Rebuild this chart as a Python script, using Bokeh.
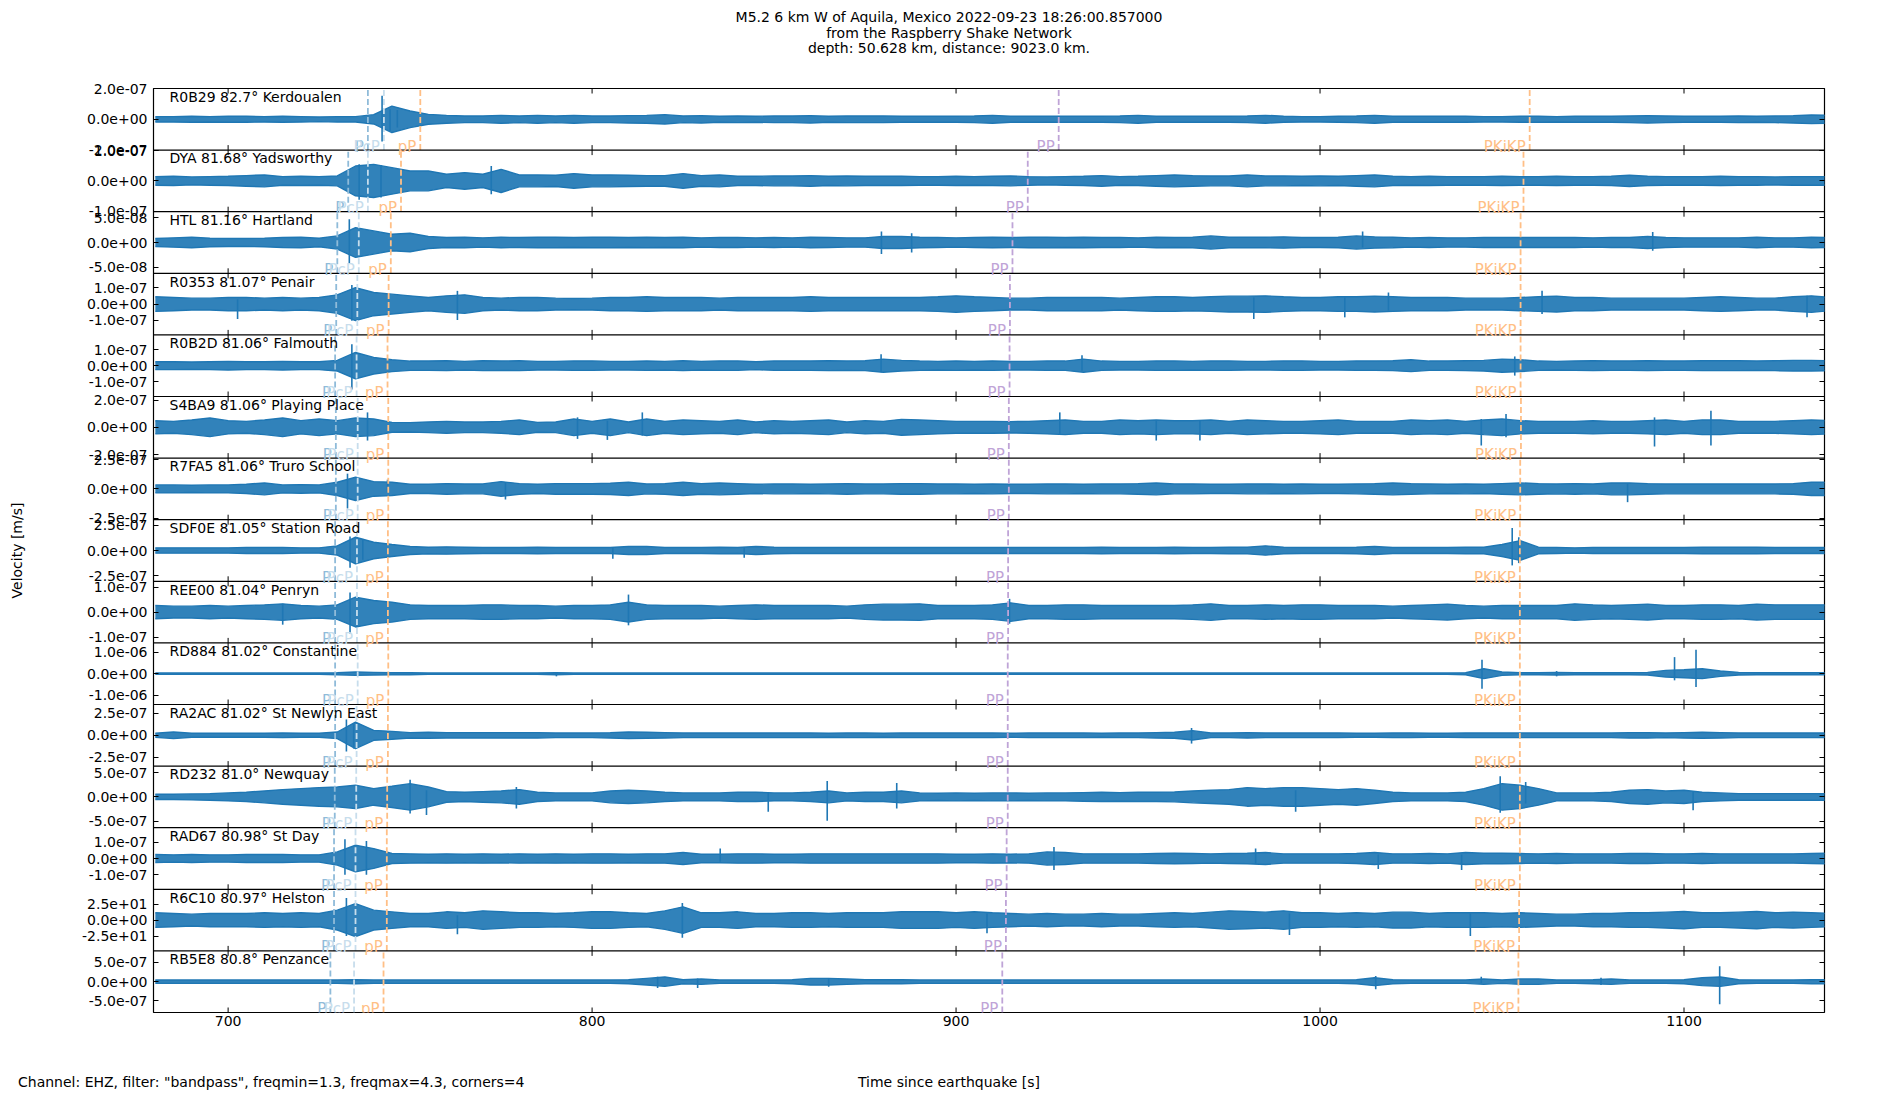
from bokeh.plotting import figure
from bokeh.models import Range1d, FixedTicker, LinearAxis, Span, Div, Label
from bokeh.layouts import column
from bokeh.embed import file_html
from bokeh.resources import INLINE

# ---------------- data ----------------
TITLE_LINES = ["M5.2 6 km W of Aquila, Mexico 2022-09-23 18:26:00.857000",
               "from the Raspberry Shake Network",
               "depth: 50.628 km, distance: 9023.0 km."]
FOOTER = 'Channel: EHZ, filter: "bandpass", freqmin=1.3, freqmax=4.3, corners=4'
XLABEL = "Time since earthquake [s]"
YLABEL = "Velocity [m/s]"

CODES = ["R0B29", "DYA", "HTL", "R0353", "R0B2D", "S4BA9", "R7FA5", "SDF0E",
         "REE00", "RD884", "RA2AC", "RD232", "RAD67", "R6C10", "RB5E8"]
DISTS = [82.7, 81.68, 81.16, 81.07, 81.06, 81.06, 81.06, 81.05,
         81.04, 81.02, 81.02, 81.0, 80.98, 80.97, 80.8]
PLACES = ["Kerdoualen", "Yadsworthy", "Hartland", "Penair", "Falmouth", "Playing Place",
          "Truro School", "Station Road", "Penryn", "Constantine", "St Newlyn East",
          "Newquay", "St Day", "Helston", "Penzance"]

# y tick value and y-limit of every panel (physical units)
TICK = [2e-7, 1e-7, 5e-8, 1e-7, 1e-7, 2e-7, 2.5e-7, 2.5e-7, 1e-7, 1e-6, 2.5e-7, 5e-7, 1e-7, 25.0, 5e-7]
YLIM = [2.0e-7, 1.02e-7, 6.17e-8, 1.89e-7, 1.92e-7, 2.26e-7, 2.63e-7, 3.05e-7,
        1.23e-7, 1.43e-6, 3.5e-7, 6.33e-7, 1.9e-7, 48.1, 8.0e-7]
# physical value of one amplitude unit of the envelope / spike lists below
UNIT = [2.15e-9, 1.097e-9, 6.63e-10, 2.03e-9, 2.06e-9, 2.43e-9, 2.83e-9, 3.28e-9,
        1.32e-9, 1.54e-8, 3.76e-9, 6.81e-9, 2.04e-9, 0.517, 8.6e-9]

# envelope sample times (s) and envelope half-amplitudes per station
T = list(range(680, 1141, 5))
ENV_R0B29 = [8,8,9,8,9,9,8,9,8,7, 8,8,14,40,25,15,12,10,10,12, 10,12,10,12,10,10,11,12,14,10,
             11,9,10,9,10,10,11,9,10,10, 10,9,9,9,9,10,12,9,9,9, 9,9,9,10,12,9,9,9,9,9,
             10,12,9,8,8,9,10,12,9,9, 9,9,9,8,8,9,9,8,9,9, 9,10,11,10,9,9,9,10,9,10, 11,13,12]
ENV_DYA = [13,14,12,13,14,16,18,13,14,13, 15,45,50,40,30,30,20,25,20,35, 18,18,17,22,18,18,17,16,16,22,
           16,18,14,14,15,15,16,14,15,14, 14,14,13,13,14,13,14,15,13,12, 13,14,16,13,14,16,18,16,15,15,
           18,15,15,14,15,14,16,18,14,13, 14,13,13,13,14,13,13,14,13,13, 14,17,14,13,13,13,14,13,13,12, 13,13,13]
ENV_HTL = [12,14,16,13,12,12,13,15,16,13, 20,45,35,25,28,18,15,16,14,16, 15,16,16,15,16,16,15,16,15,16,
           14,15,15,14,15,14,16,15,14,14, 18,18,16,15,14,15,16,15,16,16, 15,16,15,15,14,16,15,16,20,16,
           16,16,17,15,15,16,20,17,16,14, 15,14,14,15,15,15,15,15,15,14, 15,15,18,15,14,14,14,14,16,14, 14,16,15]
ENV_R0353 = [22,20,18,18,20,20,18,20,18,20, 28,50,35,30,25,20,25,28,20,18, 20,20,18,17,18,20,20,22,20,20,
             20,18,20,20,20,20,22,20,20,20, 20,20,20,22,25,22,20,18,18,20, 20,20,20,18,20,22,22,20,22,24,
             24,25,22,20,20,22,22,24,22,20, 20,20,18,18,18,20,22,24,20,20, 18,18,18,18,18,20,22,20,18,18, 22,25,20]
ENV_R0B2D = [12,12,11,12,13,12,12,13,12,12, 16,40,25,18,14,14,15,13,15,14, 15,13,13,14,14,13,13,14,13,15,
             13,14,14,12,14,14,14,15,14,15, 20,16,14,13,14,13,14,13,13,14, 14,20,14,13,13,14,14,13,14,14,
             13,13,14,14,13,13,14,14,15,18, 14,14,15,16,20,18,14,13,14,15, 14,14,15,14,14,15,15,15,14,15, 16,16,15]
ENV_S4BA9 = [20,18,22,28,20,18,22,28,20,25, 20,28,25,15,14,16,18,16,16,18, 22,15,16,25,18,25,16,25,18,22,
             20,18,22,16,20,18,20,22,16,20, 18,24,22,20,18,18,18,17,18,20, 22,18,18,22,20,22,20,20,22,18,
             22,20,18,18,20,22,18,18,18,22, 20,22,18,22,25,20,18,18,18,20, 18,18,20,22,18,22,22,18,18,18, 20,22,20]
ENV_R7FA5 = [12,12,11,12,12,14,18,12,13,12, 20,35,22,20,14,14,16,15,15,22, 16,14,16,16,16,17,20,15,16,20,
             16,18,16,14,15,15,14,15,16,15, 15,16,16,15,15,14,15,14,14,15, 15,14,15,15,16,18,15,15,14,14,
             15,15,14,15,14,14,15,16,18,16, 15,14,15,14,16,18,16,15,16,15, 18,18,16,15,15,15,15,15,15,15, 16,20,20]
ENV_SDF0E = [8,8,8,8,8,9,9,9,8,8, 14,40,25,18,12,10,11,10,9,9, 9,10,9,9,9,9,12,12,9,9,
             9,10,9,12,10,9,9,9,9,9, 9,9,9,9,9,9,9,9,9,9, 9,9,10,9,9,9,10,9,9,10,
             10,14,10,9,9,9,10,12,9,9, 9,9,10,10,18,30,10,9,8,9, 9,9,9,9,9,10,10,10,10,9, 9,9,9]
ENV_REE00 = [20,18,18,20,18,20,22,25,20,18, 22,45,35,30,22,20,20,20,22,22, 20,20,18,20,20,22,30,22,20,20,
             20,18,20,22,20,20,20,20,18,22, 24,24,25,20,20,20,22,28,20,20, 22,22,20,20,20,20,20,22,25,20,
             20,22,20,22,22,20,20,20,18,20, 22,24,20,18,20,20,20,20,25,22, 20,22,24,20,20,22,22,20,24,22, 22,22,22]
ENV_RD884 = [2,2,2,2,2,2,2,2,2,2, 3,5,4,3,3,2,2,2,2,2, 2,2,3,2,2,2,2,2,2,2,
             2,2,2,2,2,2,2,2,2,2, 2,2,2,2,2,2,2,2,2,2, 2,2,2,2,2,2,2,2,2,2,
             2,2,2,2,2,2,2,2,2,2, 2,2,3,15,5,3,3,4,3,3, 3,3,4,10,12,15,8,4,3,3, 3,3,3]
ENV_RA2AC = [6,10,6,6,6,6,6,7,6,6, 10,40,15,12,8,9,8,8,8,8, 8,8,7,7,7,8,10,9,8,7,
             7,7,7,7,7,7,7,6,7,7, 6,7,7,7,7,7,7,6,7,7, 7,7,6,7,7,8,9,14,7,7,
             8,7,7,7,7,7,6,6,7,7, 6,6,7,7,7,7,7,7,7,7, 7,8,8,7,8,9,8,7,7,7, 7,7,7]
ENV_RD232 = [8,8,9,10,12,14,18,22,25,28, 30,35,25,32,40,30,16,14,16,18, 22,14,12,12,12,18,20,18,14,12,
             12,12,14,14,12,12,14,18,12,14, 14,18,12,11,12,11,12,12,11,12, 12,13,14,13,14,14,15,18,20,22,
             28,25,28,28,25,22,25,20,14,12, 12,12,14,25,40,35,25,12,12,12, 14,20,22,18,20,14,12,10,10,10, 10,10,10]
ENV_RAD67 = [12,11,12,11,11,12,12,12,11,11, 20,40,30,15,14,13,14,13,14,13, 14,13,14,13,14,14,13,14,14,18,
             13,13,14,14,13,13,14,14,14,14, 14,14,14,14,13,13,14,13,14,20, 18,14,14,14,14,15,16,15,14,15,
             16,18,14,14,14,14,15,18,14,14, 15,14,18,16,16,15,14,15,14,14, 14,15,15,14,14,15,14,14,14,14, 14,15,16]
ENV_R6C10 = [22,20,18,20,20,20,22,20,22,20, 30,50,30,25,20,20,25,22,28,25, 22,22,20,22,25,25,22,20,28,40,
             22,22,25,20,20,22,22,20,22,22, 22,25,25,25,22,25,22,20,18,20, 18,18,20,18,18,20,22,20,24,28,
             26,24,28,22,22,20,22,20,24,24, 20,22,22,22,20,22,20,18,18,20, 20,22,22,24,26,22,22,24,26,22, 24,22,20]
ENV_RB5E8 = [5,5,5,5,5,5,5,5,5,5, 5,6,5,5,5,5,5,5,5,5, 5,5,5,5,5,5,6,10,14,6,
             8,5,5,5,5,6,10,10,8,6, 6,6,5,5,5,5,5,5,5,5, 5,5,5,5,5,5,5,5,5,5,
             5,5,5,5,5,5,6,12,6,5, 5,5,5,8,5,8,8,5,5,6, 8,5,5,5,6,12,14,6,5,5, 5,6,6]

# isolated large swings: (time s, peak up, peak down) in the same units
SPK_R0B29 = [(742.3, 71, -67), (744.5, 30, -35), (746.5, 28, -25)]
SPK_DYA = [(736.0, 50, -57), (742.0, 48, -50), (772.3, 45, -40)]
SPK_HTL = [(733.3, 70, -65), (879.5, 33, -35), (887.8, 28, -30), (1011.7, 33, -15), (1091.4, 32, -25)]
SPK_R0353 = [(702.6, 15, -45), (734.0, 58, -50), (763.0, 40, -48), (981.8, 20, -45), (1006.8, 20, -40),
             (1018.8, 35, -20), (1061.0, 40, -30), (1133.8, 25, -40)]
SPK_R0B2D = [(734.0, 65, -72), (879.4, 35, -20), (934.6, 32, -15), (1053.5, 28, -30)]
SPK_S4BA9 = [(738.3, 45, -40), (796.0, 30, -35), (804.2, 20, -38), (813.8, 45, -25), (928.5, 45, -20),
             (955.0, 20, -40), (967.0, 20, -40), (1044.3, 25, -55), (1051.1, 40, -30), (1091.9, 30, -58),
             (1107.4, 50, -55)]
SPK_R7FA5 = [(732.8, 46, -59), (743.8, 28, -10), (776.2, 20, -32), (1084.5, 15, -40)]
SPK_SDF0E = [(733.5, 42, -52), (737.0, 35, -28), (805.7, 10, -25), (841.8, 10, -22), (1052.8, 68, -45),
             (1054.6, 40, -38)]
SPK_REE00 = [(715.0, 25, -38), (733.5, 59, -65), (810.0, 53, -40), (914.7, 40, -35)]
SPK_RD884 = [(790.2, 3, -8), (1044.5, 42, -45), (1065.0, 8, -8), (1097.4, 50, -20), (1103.3, 72, -40)]
SPK_RA2AC = [(732.5, 48, -49), (734.5, 35, -40), (964.7, 22, -25)]
SPK_RD232 = [(750.0, 52, -50), (754.5, 20, -55), (779.2, 30, -35), (848.4, 15, -45), (864.6, 48, -72),
             (883.7, 42, -35), (993.3, 20, -45), (1049.5, 62, -48), (1056.5, 45, -20), (1102.5, 15, -40)]
SPK_RAD67 = [(732.1, 58, -49), (738.0, 53, -49), (835.2, 30, -10), (926.9, 35, -35), (982.3, 30, -15),
             (1016.0, 12, -32), (1038.9, 12, -35)]
SPK_R6C10 = [(732.5, 67, -48), (763.0, 15, -43), (824.8, 52, -53), (908.5, 20, -40), (991.6, 20, -45),
             (1041.3, 20, -48)]
SPK_RB5E8 = [(818.0, 15, -19), (829.0, 10, -19), (865.0, 10, -15), (1015.3, 17, -23), (1044.3, 15, -5),
             (1077.2, 12, -10), (1109.8, 47, -68)]

ENVS = [ENV_R0B29, ENV_DYA, ENV_HTL, ENV_R0353, ENV_R0B2D, ENV_S4BA9, ENV_R7FA5, ENV_SDF0E,
        ENV_REE00, ENV_RD884, ENV_RA2AC, ENV_RD232, ENV_RAD67, ENV_R6C10, ENV_RB5E8]
SPKS = [SPK_R0B29, SPK_DYA, SPK_HTL, SPK_R0353, SPK_R0B2D, SPK_S4BA9, SPK_R7FA5, SPK_SDF0E,
        SPK_REE00, SPK_RD884, SPK_RA2AC, SPK_RD232, SPK_RAD67, SPK_R6C10, SPK_RB5E8]

# theoretical arrival times (s) per station
PHASE_NAMES = ["P", "PcP", "pP", "PP", "PKiKP"]
ARR_P = [738.4, 733.0, 730.0, 729.7, 729.4, 729.6, 729.6, 729.4, 729.4, 729.4, 729.4, 729.3, 729.1, 729.1, 728.1]
ARR_PCP = [742.8, 738.4, 735.9, 735.5, 735.3, 735.6, 735.6, 735.4, 735.4, 735.6, 735.3, 735.2, 735.0, 735.0, 734.6]
ARR_PP_D = [752.8, 747.5, 744.7, 744.1, 743.8, 744.0, 744.0, 743.9, 743.9, 744.0, 743.9, 743.7, 743.6, 743.6, 742.7]
ARR_PP = [928.2, 919.7, 915.5, 914.8, 914.7, 914.5, 914.5, 914.3, 914.3, 914.2, 914.2, 914.2, 913.9, 913.7, 912.7]
ARR_PKIKP = [1057.6, 1055.9, 1055.1, 1055.1, 1055.1, 1055.2, 1055.0, 1054.9, 1054.9, 1054.9, 1054.9, 1054.9,
             1054.9, 1054.7, 1054.5]
ARRIVALS = [ARR_P, ARR_PCP, ARR_PP_D, ARR_PP, ARR_PKIKP]

XTICKS = [700, 800, 900, 1000, 1100]
XMIN, XMAX = 679.5, 1138.6

# ---------------- style ----------------
FONT = "DejaVu Sans"
FS = "14px"
FS_PHASE = "15px"
C0 = "#1f77b4"
PHASE_COLORS = ["#8fbbd9", "#c7ddec", "#ffbf86", "#bfa4d7", "#ffbf86"]
N = len(CODES)
FRAME_H = 924
PX_PER_UNIT = FRAME_H / N
W = 1884

p = figure(width=W, height=30 + FRAME_H + 40, output_backend="svg", toolbar_location=None,
           x_range=Range1d(XMIN, XMAX), y_range=Range1d(0, N),
           min_border_left=153, min_border_right=60, min_border_top=30, min_border_bottom=40)
p.xgrid.visible = False
p.ygrid.visible = False
p.outline_line_color = "black"
p.outline_line_width = 1.2
p.background_fill_color = "white"
p.border_fill_color = "white"

# bottom axis
xa = p.xaxis[0]
xa.ticker = FixedTicker(ticks=XTICKS)
xa.major_tick_in = 0
xa.major_tick_out = 0
xa.minor_tick_line_color = None
xa.axis_line_color = None
xa.major_label_standoff = 3
xa.major_label_text_font = FONT
xa.major_label_text_font_size = FS
xa.major_label_text_color = "black"

# per-panel y ticks
ytick_pos = []
ytick_lab = {}
for k in range(N):
    c = N - 0.5 - k
    h = 0.5 * TICK[k] / YLIM[k]
    for pos, v in ((c + h, TICK[k]), (c, 0.0), (c - h, -TICK[k])):
        pos = round(pos, 6)
        ytick_pos.append(pos)
        ytick_lab[pos] = f"{v:.1e}"

ya = p.yaxis[0]
ya.ticker = FixedTicker(ticks=ytick_pos)
ya.major_label_overrides = ytick_lab
ya.major_tick_in = 5
ya.major_tick_out = 0
ya.major_tick_line_color = "black"
ya.minor_tick_line_color = None
ya.axis_line_color = None
ya.major_label_standoff = 6
ya.major_label_text_font = FONT
ya.major_label_text_font_size = FS
ya.major_label_text_color = "black"
ya.axis_label = YLABEL
ya.axis_label_standoff = 54
ya.axis_label_text_font = FONT
ya.axis_label_text_font_size = FS
ya.axis_label_text_font_style = "normal"
ya.axis_label_text_color = "black"

ra = LinearAxis(ticker=FixedTicker(ticks=ytick_pos), major_tick_in=5, major_tick_out=0,
                minor_tick_line_color=None, axis_line_color=None,
                major_label_text_font_size="0px")
p.add_layout(ra, "right")

# panel separators
for j in range(1, N):
    p.add_layout(Span(location=j, dimension="width", line_color="black", line_width=1.2))

# x tick marks on every panel edge (pointing inwards)
d = 5.0 / PX_PER_UNIT
x0s, y0s, y1s = [], [], []
for j in range(N + 1):
    for xt in XTICKS:
        x0s.append(xt)
        y0s.append(j - d)
        y1s.append(j + d)
p.segment(x0=x0s, y0=y0s, x1=x0s, y1=y1s, line_color="black", line_width=1)

# traces
for k in range(N):
    c = N - 0.5 - k
    s = 0.5 * UNIT[k] / YLIM[k]
    env = ENVS[k]
    lo = [c - v * s for v in env]
    hi = [c + v * s for v in env]
    p.varea(x=T, y1=lo, y2=hi, fill_color=C0, fill_alpha=0.92)
    p.line(x=T, y=hi, line_color=C0, line_width=1.4)
    p.line(x=T, y=lo, line_color=C0, line_width=1.4)
    sp = SPKS[k]
    p.segment(x0=[q[0] for q in sp], y0=[c + q[2] * s for q in sp],
              x1=[q[0] for q in sp], y1=[c + q[1] * s for q in sp],
              line_color=C0, line_width=1.6)

# phase markers
for ph, name in enumerate(PHASE_NAMES):
    times = ARRIVALS[ph]
    col = PHASE_COLORS[ph]
    p.segment(x0=times, y0=[N - 1 - k for k in range(N)], x1=times, y1=[N - k for k in range(N)],
              line_color=col, line_width=1.8, line_dash="6 3")
    for k in range(N):
        p.add_layout(Label(x=times[k], y=N - 1 - k + 3.5 / PX_PER_UNIT, text=name,
                           text_align="right", text_baseline="alphabetic", x_offset=-4,
                           text_color=col, text_font=FONT, text_font_size=FS_PHASE))

# station labels
for k in range(N):
    p.add_layout(Label(x=XMIN, y=N - k - 0.005, text=f"{CODES[k]} {DISTS[k]}\u00b0 {PLACES[k]}",
                       x_offset=16, text_align="left", text_baseline="top",
                       text_color="black", text_font=FONT, text_font_size=FS))

# title block above and footer below the figure
font_css = f"font-family:'{FONT}';font-size:{FS};color:black;"
title_html = (f"<div style=\"width:{W}px;height:58px;box-sizing:border-box;padding-left:14px;"
              f"padding-top:10px;text-align:center;line-height:15.65px;{font_css}\">"
              + "<br>".join(TITLE_LINES) + "</div>")
title_div = Div(text=title_html, width=W, height=58, margin=0)

footer_html = (f"<div style=\"position:relative;width:{W}px;height:32px;line-height:14px;{font_css}\">"
               f"<span style=\"position:absolute;left:18px;top:23px;white-space:nowrap;\">{FOOTER}</span>"
               f"<span style=\"position:absolute;left:14px;width:{W - 14}px;top:23px;text-align:center;"
               f"white-space:nowrap;\">{XLABEL}</span></div>")
footer_div = Div(text=footer_html, width=W, height=32, margin=0)

layout = column(title_div, p, footer_div, spacing=0)
open("out.html", "w").write(file_html(layout, INLINE))
